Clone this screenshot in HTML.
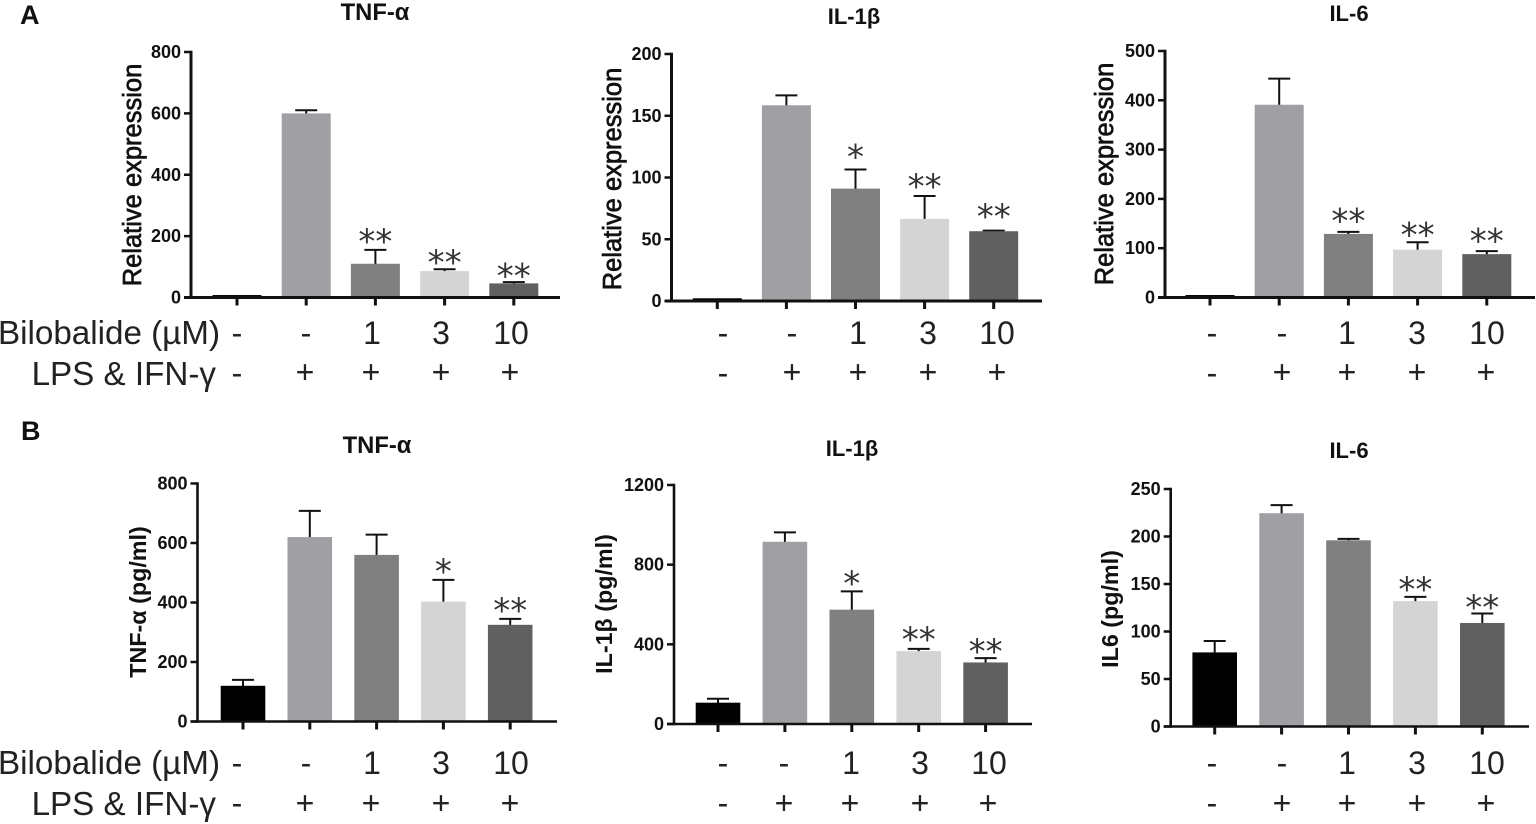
<!DOCTYPE html>
<html lang="en">
<head>
<meta charset="utf-8">
<title>Bilobalide cytokine expression</title>
<style>
html,body{margin:0;padding:0;background:#fff;}
svg{display:block;}
text{font-family:"Liberation Sans",sans-serif;fill:#111;}
.title{font-size:22px;font-weight:bold;text-anchor:middle;}
.title.wide{font-size:23.8px;}
.letter{font-size:27px;font-weight:bold;}
.ya{font-size:25.5px;text-anchor:middle;stroke:#111;stroke-width:.7px;}
.yb{font-size:23.3px;font-weight:bold;text-anchor:middle;}
.row{font-size:32px;text-anchor:middle;fill:#222;}
.rowlab{font-size:33.2px;text-anchor:end;fill:#222;}
.tick-label{font-size:18px;font-weight:bold;text-anchor:end;}
.star{font-family:"DejaVu Sans",sans-serif;font-size:34px;text-anchor:middle;fill:#333;}
</style>
</head>
<body>
<svg id="figure" width="1536" height="824" viewBox="0 0 1536 824" xmlns="http://www.w3.org/2000/svg">
  <rect width="1536" height="824" fill="#fff"/>
  <text class="letter" x="20" y="24">A</text>
  <text class="letter" x="21" y="440">B</text>

  <text class="title wide" x="375" y="20">TNF-α</text>
  <text class="title" x="854" y="24">IL-1β</text>
  <text class="title" x="1349" y="21">IL-6</text>
  <text class="title wide" x="377" y="453">TNF-α</text>
  <text class="title" x="852" y="456">IL-1β</text>
  <text class="title" x="1349" y="458">IL-6</text>

  <text class="ya" transform="translate(141,175) rotate(-90)">Relative expression</text>
  <text class="ya" transform="translate(621,179) rotate(-90)">Relative expression</text>
  <text class="ya" transform="translate(1113,174) rotate(-90)">Relative expression</text>
  <text class="yb" transform="translate(146,602) rotate(-90)">TNF-α (pg/ml)</text>
  <text class="yb" transform="translate(612,604) rotate(-90)">IL-1β (pg/ml)</text>
  <text class="yb" transform="translate(1118,609) rotate(-90)">IL6 (pg/ml)</text>

  <g>
    <text class="rowlab" x="220" y="344">Bilobalide (µM)</text>
    <text class="rowlab" x="216" y="385">LPS &amp; IFN-γ</text>
    <text class="row" x="237" y="344">-</text><text class="row" x="306" y="344">-</text><text class="row" x="372" y="344">1</text><text class="row" x="441" y="344">3</text><text class="row" x="511" y="344">10</text>
    <text class="row" x="237" y="384">-</text><text class="row" x="305" y="383">+</text><text class="row" x="371" y="383">+</text><text class="row" x="441" y="383">+</text><text class="row" x="510" y="383">+</text>

    <text class="row" x="723" y="344">-</text><text class="row" x="792" y="344">-</text><text class="row" x="858" y="344">1</text><text class="row" x="928" y="344">3</text><text class="row" x="997" y="344">10</text>
    <text class="row" x="723" y="384">-</text><text class="row" x="792" y="383">+</text><text class="row" x="858" y="383">+</text><text class="row" x="928" y="383">+</text><text class="row" x="997" y="383">+</text>

    <text class="row" x="1212" y="344">-</text><text class="row" x="1282" y="344">-</text><text class="row" x="1347" y="344">1</text><text class="row" x="1417" y="344">3</text><text class="row" x="1487" y="344">10</text>
    <text class="row" x="1212" y="384">-</text><text class="row" x="1282" y="383">+</text><text class="row" x="1347" y="383">+</text><text class="row" x="1417" y="383">+</text><text class="row" x="1486" y="383">+</text>
  </g>
  <g>
    <text class="rowlab" x="220" y="774">Bilobalide (µM)</text>
    <text class="rowlab" x="216" y="815">LPS &amp; IFN-γ</text>
    <text class="row" x="237" y="774">-</text><text class="row" x="306" y="774">-</text><text class="row" x="372" y="774">1</text><text class="row" x="441" y="774">3</text><text class="row" x="511" y="774">10</text>
    <text class="row" x="237" y="814">-</text><text class="row" x="305" y="814">+</text><text class="row" x="371" y="814">+</text><text class="row" x="441" y="814">+</text><text class="row" x="510" y="814">+</text>

    <text class="row" x="723" y="774">-</text><text class="row" x="784" y="774">-</text><text class="row" x="851" y="774">1</text><text class="row" x="920" y="774">3</text><text class="row" x="989" y="774">10</text>
    <text class="row" x="723" y="814">-</text><text class="row" x="784" y="814">+</text><text class="row" x="850" y="814">+</text><text class="row" x="920" y="814">+</text><text class="row" x="988" y="814">+</text>

    <text class="row" x="1212" y="774">-</text><text class="row" x="1282" y="774">-</text><text class="row" x="1347" y="774">1</text><text class="row" x="1417" y="774">3</text><text class="row" x="1487" y="774">10</text>
    <text class="row" x="1212" y="814">-</text><text class="row" x="1282" y="814">+</text><text class="row" x="1347" y="814">+</text><text class="row" x="1417" y="814">+</text><text class="row" x="1486" y="814">+</text>
  </g>
</svg>
<script>
/* Data (axis units) */
const groups = ['control', 'model', 'bilobalide-1', 'bilobalide-3', 'bilobalide-10'];
const barColors = ['#000000', '#a0a0a4', '#808080', '#d4d4d4', '#606060'];

const mrnaTnfValues = [8, 600, 110, 86, 46];
const mrnaTnfErrorTops = [8, 610, 155, 92, 50];
const mrnaTnfTicks = [0, 200, 400, 600, 800];
const mrnaTnfStars = ['', '', '**', '**', '**'];
const mrnaTnfStarLift = [0, 0, 43, 39, 36];

const mrnaIl1bValues = [2.2, 158.5, 91, 66.5, 56.5];
const mrnaIl1bErrorTops = [2.2, 166.5, 106.5, 85, 57];
const mrnaIl1bTicks = [0, 50, 100, 150, 200];
const mrnaIl1bStars = ['', '', '*', '**', '**'];
const mrnaIl1bStarLift = [0, 0, 14, 11.6, 15.4];

const mrnaIl6Values = [5, 391, 129, 97, 88];
const mrnaIl6ErrorTops = [5, 444, 133, 112, 94];
const mrnaIl6Ticks = [0, 100, 200, 300, 400, 500];
const mrnaIl6Stars = ['', '', '**', '**', '**'];
const mrnaIl6StarLift = [0, 0, 32, 25, 31];

const elisaTnfValues = [120, 620, 560, 403, 325];
const elisaTnfErrorTops = [140, 708, 628, 476, 345];
const elisaTnfTicks = [0, 200, 400, 600, 800];
const elisaTnfStars = ['', '', '', '*', '**'];
const elisaTnfStarLift = [0, 0, 0, 45, 45];

const elisaIl1bValues = [107, 915, 574, 366, 309];
const elisaIl1bErrorTops = [127, 962, 666, 377, 331];
const elisaIl1bTicks = [0, 400, 800, 1200];
const elisaIl1bStars = ['', '', '*', '**', '**'];
const elisaIl1bStarLift = [0, 0, 64, 72, 59];

const elisaIl6Values = [78, 224.5, 196, 132, 109];
const elisaIl6ErrorTops = [90, 233, 197.5, 136.4, 119];
const elisaIl6Ticks = [0, 50, 100, 150, 200, 250];
const elisaIl6Stars = ['', '', '', '**', '**'];
const elisaIl6StarLift = [0, 0, 0, 13, 11.6];

const SVG_NS = 'http://www.w3.org/2000/svg';
const figure = document.getElementById('figure');

function shape(parent, tag, attrs) {
  const el = document.createElementNS(SVG_NS, tag);
  for (const k in attrs) el.setAttribute(k, attrs[k]);
  parent.appendChild(el);
  return el;
}

function drawPanel(p) {
  const maxTick = p.ticks[p.ticks.length - 1];
  const yScale = v => p.y0 - (v / maxTick) * (p.y0 - p.yTop);
  const xScale = i => p.x0 + i * p.step;

  const g = shape(figure, 'g', {});
  
  

  p.values.forEach((v, i) => {
    const cx = xScale(i);
    const errTop = yScale(p.errs[i]);

    if (p.errs[i] > v) {
      const stem = shape(g, 'line', {x1: cx, x2: cx, y1: yScale(v) + 1, y2: errTop, stroke: '#111', 'stroke-width': 2});
      
      

      const cap = shape(g, 'line', {x1: cx - 11, x2: cx + 11, y1: errTop, y2: errTop, stroke: '#111', 'stroke-width': 2});
      
      
    }

    const bar = shape(g, 'rect', {x: cx - p.barW / 2, y: yScale(v), width: p.barW, height: p.y0 - yScale(v), fill: barColors[i]});
    
    bar.setAttribute('data-group', groups[i]);
    

    if (p.stars[i]) {
      const star = shape(g, 'text', {class: 'star', x: cx, y: yScale(p.errs[i] + p.lift[i]) + 16.5});
      star.textContent = p.stars[i];
      
      
    }

    const xTick = shape(g, 'line', {x1: cx, x2: cx, y1: p.y0, y2: p.y0 + 8, stroke: '#111', 'stroke-width': 3});
    
    
  });

  p.ticks.forEach(t => {
    const y = yScale(t);
    const yTick = shape(g, 'line', {x1: p.axisX - 7, x2: p.axisX, y1: y, y2: y, stroke: '#111', 'stroke-width': 2.5});
    
    

    const label = shape(g, 'text', {class: 'tick-label', x: p.axisX - 10, y: y + 6});
    label.textContent = t;
    
    
  });

  const yAxis = shape(g, 'line', {x1: p.axisX, x2: p.axisX, y1: p.yTop - 1.2, y2: p.y0 + 1.2, stroke: '#111', 'stroke-width': p.lw});
  
  

  const xAxis = shape(g, 'line', {x1: p.axisX - 7, x2: p.xEnd, y1: p.y0, y2: p.y0, stroke: '#111', 'stroke-width': p.lw});
  
  
}

drawPanel({name: 'chart-mrna-tnf', axisX: 191, y0: 297.5, yTop: 52, x0: 237, step: 69.2, barW: 49, xEnd: 560, lw: 3, values: mrnaTnfValues, errs: mrnaTnfErrorTops, ticks: mrnaTnfTicks, stars: mrnaTnfStars, lift: mrnaTnfStarLift});
drawPanel({name: 'chart-mrna-il1b', axisX: 671.5, y0: 301, yTop: 54, x0: 717.3, step: 69.1, barW: 49, xEnd: 1042, lw: 3, values: mrnaIl1bValues, errs: mrnaIl1bErrorTops, ticks: mrnaIl1bTicks, stars: mrnaIl1bStars, lift: mrnaIl1bStarLift});
drawPanel({name: 'chart-mrna-il6', axisX: 1165, y0: 297.5, yTop: 51, x0: 1210, step: 69.2, barW: 49, xEnd: 1535, lw: 3, values: mrnaIl6Values, errs: mrnaIl6ErrorTops, ticks: mrnaIl6Ticks, stars: mrnaIl6Stars, lift: mrnaIl6StarLift});
drawPanel({name: 'chart-elisa-tnf', axisX: 197.5, y0: 721.5, yTop: 483.5, x0: 243, step: 66.8, barW: 44.6, xEnd: 557, lw: 2.6, values: elisaTnfValues, errs: elisaTnfErrorTops, ticks: elisaTnfTicks, stars: elisaTnfStars, lift: elisaTnfStarLift});
drawPanel({name: 'chart-elisa-il1b', axisX: 674, y0: 724, yTop: 485, x0: 718, step: 66.9, barW: 44.6, xEnd: 1032, lw: 2.6, values: elisaIl1bValues, errs: elisaIl1bErrorTops, ticks: elisaIl1bTicks, stars: elisaIl1bStars, lift: elisaIl1bStarLift});
drawPanel({name: 'chart-elisa-il6', axisX: 1170.7, y0: 726.5, yTop: 489, x0: 1214.7, step: 66.9, barW: 44.6, xEnd: 1529, lw: 2.6, values: elisaIl6Values, errs: elisaIl6ErrorTops, ticks: elisaIl6Ticks, stars: elisaIl6Stars, lift: elisaIl6StarLift});
</script>
</body>
</html>
